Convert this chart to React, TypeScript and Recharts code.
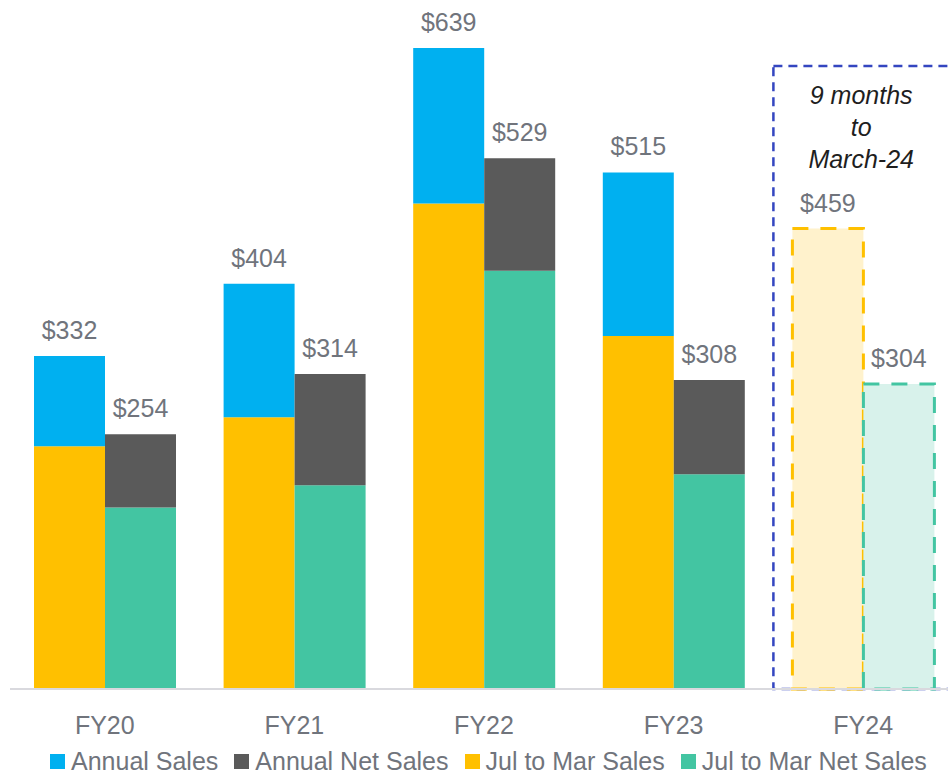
import React from 'react';
import { BarChart, Bar, XAxis, YAxis, Cell, LabelList, ReferenceArea } from 'recharts';

const categories = ['FY20', 'FY21', 'FY22', 'FY23', 'FY24'];
const annualSales = [332, 404, 639, 515, null];
const annualNetSales = [254, 314, 529, 308, null];
const julMarSales = [242, 271, 484, 352, 459];
const julMarNetSales = [181, 203, 417, 214, 304];
const salesLabels = [332, 404, 639, 515, 459];
const netLabels = [254, 314, 529, 308, 304];
const noteLines = ['9 months', 'to', 'March-24'];
const legendItems = [
  { name: 'Annual Sales', color: '#00B0F0' },
  { name: 'Annual Net Sales', color: '#5A5A5A' },
  { name: 'Jul to Mar Sales', color: '#FFC000' },
  { name: 'Jul to Mar Net Sales', color: '#43C5A2' },
];

const data = categories.map((c, i) => ({
  cat: c,
  julMarSales: julMarSales[i],
  salesRest: annualSales[i] == null ? null : (annualSales[i] as number) - julMarSales[i],
  julMarNet: julMarNetSales[i],
  netRest: annualNetSales[i] == null ? null : (annualNetSales[i] as number) - julMarNetSales[i],
}));

const FONT = '"Liberation Sans", Arial, sans-serif';
const GREY = '#70747C';
const partial = categories.length - 1;

const makeLabel = (labels: number[], only: (i: number) => boolean) => (props: any) => {
  const { x, y, width, index } = props;
  if (!only(index)) return null;
  return (
    <text x={x + width / 2} y={y - 17} textAnchor="middle" fill={GREY} fontSize={25} fontFamily={FONT}>
      {'$' + labels[index]}
    </text>
  );
};

const NoteLabel = (props: any) => {
  const { viewBox } = props;
  const cx = viewBox.x + viewBox.width / 2 - 2;
  return (
    <g>
      {noteLines.map((t, i) => (
        <text key={i} x={cx} y={viewBox.y + 38 + i * 32} textAnchor="middle" fill="#1E1E1E"
          fontSize={25} fontStyle="italic" fontFamily={FONT}>{t}</text>
      ))}
    </g>
  );
};

const BoxShape = (props: any) => {
  const { x, y, width, height } = props;
  return (
    <rect x={x + 5} y={y} width={width - 5} height={height} fill="none" stroke="#3446C0"
      strokeWidth={2.5} strokeDasharray="9 6" />
  );
};

const LegendRow = () => (
  <div style={{ position: 'absolute', left: 50, top: 746, display: 'flex', alignItems: 'center', fontFamily: FONT, fontSize: 25, color: GREY, whiteSpace: 'nowrap' }}>
    {legendItems.map((it, i) => (
      <div key={i} style={{ display: 'flex', alignItems: 'center', marginRight: 16 }}>
        <div style={{ width: 15, height: 15, background: it.color, marginRight: 6 }} />
        <span style={{ lineHeight: '30px' }}>{it.name}</span>
      </div>
    ))}
  </div>
);

export default function App() {
  return (
    <div style={{ position: 'absolute', left: 0, top: 0, width: 948, height: 774, overflow: 'hidden', background: '#fff' }}>
      <BarChart width={958} height={774} data={data} margin={{ top: 48, right: 0, left: 10, bottom: 0 }}
        barCategoryGap={24} barGap={0}>
        <XAxis dataKey="cat" axisLine={{ stroke: '#D9D9DE', strokeWidth: 2 }} tickLine={false} tickMargin={21}
          tick={{ fill: GREY, fontSize: 25, fontFamily: FONT }} height={85} interval={0} />
        <YAxis hide domain={[0, 639]} />
        <Bar dataKey="julMarSales" stackId="s" fill="#FFC000" isAnimationActive={false}>
          {data.map((d, i) => (
            <Cell key={i} fill={i === partial ? '#FFF2CC' : '#FFC000'} stroke={i === partial ? '#FFC000' : 'none'}
              strokeWidth={i === partial ? 3 : 0} strokeDasharray={i === partial ? '16 12' : undefined} />
          ))}
          <LabelList dataKey="julMarSales" content={makeLabel(salesLabels, (i) => i === partial)} />
        </Bar>
        <Bar dataKey="salesRest" stackId="s" fill="#00B0F0" isAnimationActive={false}>
          <LabelList dataKey="salesRest" content={makeLabel(salesLabels, (i) => i !== partial)} />
        </Bar>
        <Bar dataKey="julMarNet" stackId="n" fill="#43C5A2" isAnimationActive={false}>
          {data.map((d, i) => (
            <Cell key={i} fill={i === partial ? '#D8F2EB' : '#43C5A2'} stroke={i === partial ? '#43C5A2' : 'none'}
              strokeWidth={i === partial ? 3 : 0} strokeDasharray={i === partial ? '16 12' : undefined} />
          ))}
          <LabelList dataKey="julMarNet" content={makeLabel(netLabels, (i) => i === partial)} />
        </Bar>
        <Bar dataKey="netRest" stackId="n" fill="#5A5A5A" isAnimationActive={false}>
          <LabelList dataKey="netRest" content={makeLabel(netLabels, (i) => i !== partial)} />
        </Bar>
        <ReferenceArea x1="FY24" x2="FY24" y1={0} y2={621} ifOverflow="visible" shape={<BoxShape />}
          label={<NoteLabel />} />
      </BarChart>
      <LegendRow />
    </div>
  );
}
